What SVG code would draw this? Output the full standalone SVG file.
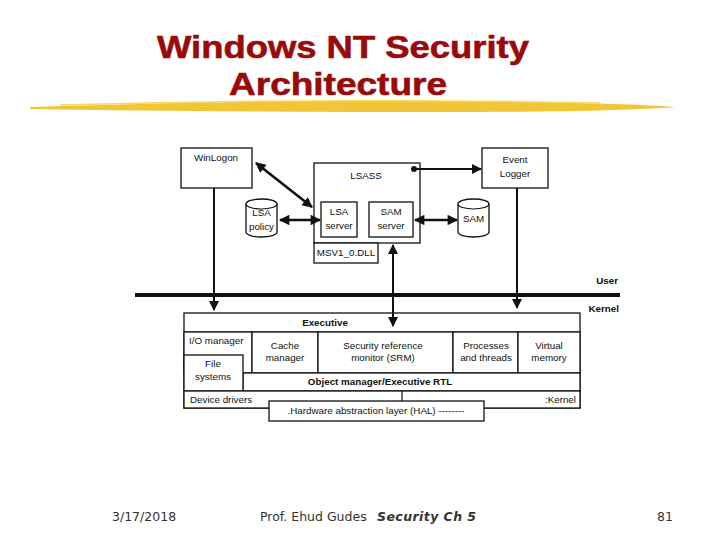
<svg xmlns="http://www.w3.org/2000/svg" width="720" height="540" viewBox="0 0 720 540">
<style>
.box{fill:#fff;stroke:#111;stroke-width:1.3}
.t{font-family:"Liberation Sans",Arial,sans-serif;font-size:9.8px;fill:#111;text-anchor:middle}
.tl{text-anchor:start}
.tr{text-anchor:end}
.b{font-weight:bold}
.title{font-family:"Liberation Sans",Arial,sans-serif;font-size:32px;font-weight:bold;fill:#990a0a;stroke:#990a0a;stroke-width:0.6;text-anchor:middle}
.foot{font-family:"DejaVu Sans",Tahoma,sans-serif;font-size:12.5px;fill:#333}
.ar{stroke:#111;stroke-width:2.6;fill:none}
.ln{stroke:#111;stroke-width:2;fill:none}
</style>
<defs>
<marker id="ah" viewBox="0 0 10 10" refX="9" refY="5" markerWidth="4.5" markerHeight="4" orient="auto-start-reverse" markerUnits="strokeWidth">
<path d="M0,0 L10,5 L0,10 z" fill="#111"/>
</marker>
<marker id="ah2" viewBox="0 0 10 10" refX="9" refY="5" markerWidth="6" markerHeight="5" orient="auto-start-reverse" markerUnits="strokeWidth">
<path d="M0,0 L10,5 L0,10 z" fill="#111"/>
</marker>
</defs>
<rect width="720" height="540" fill="#fff"/>
<g id="title">
<text class="title" x="343" y="58" textLength="372" lengthAdjust="spacingAndGlyphs">Windows NT Security</text>
<text class="title" x="338" y="95" textLength="218" lengthAdjust="spacingAndGlyphs">Architecture</text>
<path d="M30,107 C150,103 300,100 450,101 C560,102 640,104 676,107 C640,110 560,112 450,112 C300,112 150,111 30,109 Z" fill="#eebf22" opacity="0.9"/>
<path d="M60,105 C200,101 400,99 600,103" stroke="#f7d860" stroke-width="1.5" fill="none"/>
</g>
<g id="winlogon">
<rect class="box" x="181" y="148" width="71" height="40"/>
<text class="t" x="216" y="161">WinLogon</text>
</g>
<g id="lsass">
<rect class="box" x="314" y="163" width="106" height="80"/>
<text class="t" x="366" y="179">LSASS</text>
</g>
<g id="lsa-server">
<rect class="box" x="321" y="202" width="36" height="35"/>
<text class="t" x="339" y="215">LSA</text>
<text class="t" x="339" y="229">server</text>
</g>
<g id="sam-server">
<rect class="box" x="369" y="202" width="44" height="35"/>
<text class="t" x="391" y="215">SAM</text>
<text class="t" x="391" y="229">server</text>
</g>
<g id="msv">
<rect class="box" x="314" y="243" width="64" height="20"/>
<text class="t" x="346" y="256">MSV1_0.DLL</text>
</g>
<g id="event-logger">
<rect class="box" x="482" y="148" width="66" height="40"/>
<text class="t" x="515" y="163">Event</text>
<text class="t" x="515" y="177">Logger</text>
</g>
<g id="lsa-policy">
<path class="box" d="M246,204 A15.5,5 0 0 1 277,204 V232 A15.5,5 0 0 1 246,232 Z"/>
<path d="M246,204 A15.5,5 0 0 0 277,204" fill="none" stroke="#111" stroke-width="1.1"/>
<text class="t" x="261.5" y="216">LSA</text>
<text class="t" x="261.5" y="230">policy</text>
</g>
<g id="sam-db">
<path class="box" d="M458,204 A15.5,5 0 0 1 489,204 V232 A15.5,5 0 0 1 458,232 Z"/>
<path d="M458,204 A15.5,5 0 0 0 489,204" fill="none" stroke="#111" stroke-width="1.1"/>
<text class="t" x="473.5" y="222">SAM</text>
</g>
<g id="executive">
<rect class="box" x="184" y="313" width="396" height="95"/>
<line x1="184" y1="332" x2="580" y2="332" stroke="#111" stroke-width="1.2"/>
<text class="t b" x="325" y="326">Executive</text>
</g>
<g id="io-manager">
<rect class="box" x="184" y="332" width="68" height="41"/>
<text class="t tl" x="189" y="344">I/O manager</text>
</g>
<g id="cache-manager">
<rect class="box" x="252" y="332" width="66" height="41"/>
<text class="t" x="285" y="349">Cache</text>
<text class="t" x="285" y="361">manager</text>
</g>
<g id="srm">
<rect class="box" x="318" y="332" width="135" height="41"/>
<text class="t" x="383" y="349">Security reference</text>
<text class="t" x="383" y="361">monitor (SRM)</text>
</g>
<g id="processes">
<rect class="box" x="453" y="332" width="65" height="41"/>
<text class="t" x="486" y="349">Processes</text>
<text class="t" x="486" y="361">and threads</text>
</g>
<g id="virtual-memory">
<rect class="box" x="518" y="332" width="62" height="41"/>
<text class="t" x="549" y="349">Virtual</text>
<text class="t" x="549" y="361">memory</text>
</g>
<g id="object-manager">
<rect class="box" x="243" y="373" width="337" height="18"/>
<text class="t b" x="380" y="385">Object manager/Executive RTL</text>
</g>
<g id="file-systems">
<rect class="box" x="184" y="355" width="59" height="36"/>
<text class="t" x="213" y="367">File</text>
<text class="t" x="213" y="380">systems</text>
</g>
<g id="kernel-row">
<rect class="box" x="184" y="391" width="396" height="17"/>
<line x1="402" y1="391" x2="402" y2="401" stroke="#111" stroke-width="1.2"/>
<text class="t tl" x="190" y="403">Device drivers</text>
<text class="t tr" x="576" y="403">:Kernel</text>
</g>
<g id="hal">
<rect class="box" x="269" y="401" width="215" height="20"/>
<text class="t" x="376" y="414">.Hardware abstraction layer (HAL) --------</text>
</g>
<g id="connectors">
<line class="ar" x1="256" y1="163" x2="312" y2="207" marker-start="url(#ah)" marker-end="url(#ah)"/>
<line class="ar" x1="280" y1="220" x2="320" y2="220" marker-start="url(#ah)" marker-end="url(#ah)"/>
<line class="ar" x1="415" y1="220" x2="457" y2="220" marker-start="url(#ah)" marker-end="url(#ah)"/>
<circle cx="414" cy="169" r="3" fill="#111"/>
<line class="ln" x1="414" y1="169" x2="481" y2="169" marker-end="url(#ah2)"/>
<line class="ln" x1="214" y1="188" x2="214" y2="310" marker-end="url(#ah2)"/>
<line class="ln" x1="517" y1="188" x2="517" y2="308" marker-end="url(#ah2)"/>
<line class="ln" x1="393" y1="245" x2="393" y2="326" marker-start="url(#ah2)" marker-end="url(#ah2)"/>
<line x1="135" y1="295" x2="620" y2="295" stroke="#111" stroke-width="4"/>
<text class="t tr b" x="618" y="284">User</text>
<text class="t tr b" x="619" y="312">Kernel</text>
</g>
<g id="footer">
<text class="foot" x="112" y="521">3/17/2018</text>
<text class="foot" x="260" y="521">Prof. Ehud Gudes</text>
<text class="foot" x="377" y="521" font-weight="bold" font-style="italic" textLength="99">Security  Ch 5</text>
<text class="foot" x="657" y="521">81</text>
</g>
</svg>
